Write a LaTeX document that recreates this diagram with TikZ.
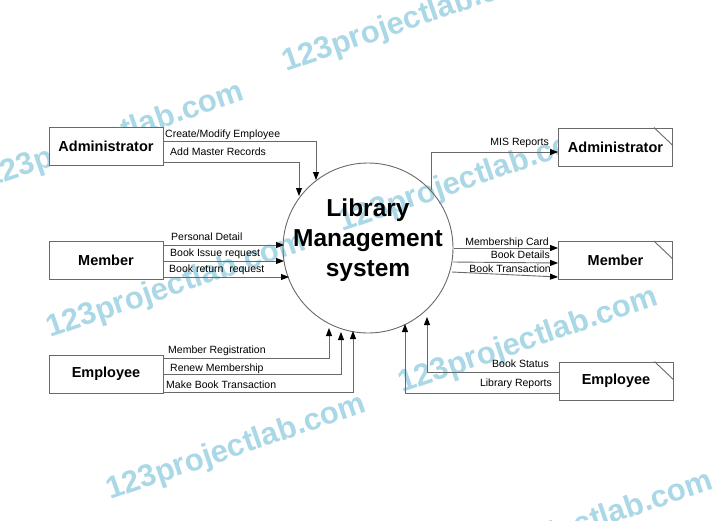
\documentclass[tikz,border=0pt]{standalone}
\usepackage{fontspec}
\setmainfont{Liberation Sans}
\usetikzlibrary{arrows.meta}
\definecolor{wmblue}{RGB}{170,216,230}
\definecolor{linegray}{RGB}{105,105,105}
\begin{document}
\begin{tikzpicture}[x=1pt,y=-1pt,
  ent/.style={draw=linegray, fill=white, line width=0.9pt, minimum width=114pt, minimum height=38pt, inner sep=0pt, font=\fontsize{14.5}{16}\selectfont\bfseries},
  flow/.style={draw=linegray, line width=0.9pt, -{Triangle[length=8pt,width=6pt,color=black]}},
  lbl/.style={font=\fontsize{10.5}{12}\selectfont, inner sep=0pt},
  wm/.style={font=\fontsize{31}{31}\selectfont\bfseries, text=wmblue, rotate=19, anchor=base west, inner sep=0pt}]
\useasboundingbox (0,0) rectangle (720,520);
\clip (0,0) rectangle (720,520);
\fill[white] (0,0) rectangle (720,520);

% watermarks
\node[wm] (w1) at (286,72) {123projectlab.com};
\node[wm] (w7) at (-12,188) {123projectlab.com};
\node[wm] (w2) at (50,338) {123projectlab.com};
\node[wm] (w3) at (342,232) {123projectlab.com};
\node[wm] (w4) at (402,393) {123projectlab.com};
\node[wm] (w5) at (110,500) {123projectlab.com};
\node[wm] (w6) at (457,577) {123projectlab.com};

% process
\node[circle, draw=linegray, line width=0.9pt, minimum size=170pt, inner sep=0pt] (sys) at (368,248) {};
\node[align=center, font=\fontsize{24.5}{30}\selectfont\bfseries, inner sep=0pt] (title) at (368,240) {Library\\Management\\system};

% entities
\node[ent] (ladm) at (106,146.5) {Administrator};
\node[ent] (lmem) at (106,260.5) {Member};
\node[ent] (lemp) at (106,374) {Employee};
\node[ent] (radm) at (615.5,147) {Administrator};
\node[ent] (rmem) at (615.5,260.5) {Member};
\node[ent] (remp) at (616,381) {Employee};
\foreach \n in {radm,rmem,remp}
  \draw[linegray, line width=0.9pt] ([xshift=-19pt]\n.north east) -- ([yshift=-18pt]\n.north east);

% end points on the process
\coordinate (a1) at (316,180);
\coordinate (a2) at (299,196);
\coordinate (m1) at (284,245);
\coordinate (m2) at (284,261);
\coordinate (m3) at (289,277);
\coordinate (e1) at (329,328);
\coordinate (e2) at (341,332);
\coordinate (e3) at (353,331);
\coordinate (r0) at (431,190);
\coordinate (o1) at (454,248);
\coordinate (o2) at (453,262);
\coordinate (o3) at (452,272);
\coordinate (b1) at (427,317);
\coordinate (b2) at (405,324);

% flows
\draw[flow] (ladm.east |- 0,141) -| (a1);
\draw[flow] (ladm.east |- 0,162) -| (a2);
\draw[flow] (lmem.east |- m1) -- (m1);
\draw[flow] (lmem.east |- m2) -- (m2);
\draw[flow] (lmem.east |- m3) -- (m3);
\draw[flow] (lemp.east |- 0,358) -| (e1);
\draw[flow] (lemp.east |- 0,374) -| (e2);
\draw[flow] (lemp.east |- 0,392) -| (e3);
\draw[flow] (r0) |- (radm.west |- 0,152);
\draw[flow] (o1) -- (rmem.west |- 0,248);
\draw[flow] (o2) -- (rmem.west |- 0,263);
\draw[flow] (o3) -- (rmem.west |- 0,277);
\draw[flow] (remp.west |- 0,372) -| (b1);
\draw[flow] (remp.west |- 0,393) -| (b2);

% labels
\node[lbl, anchor=base west] (l1) at (165,137) {Create/Modify Employee};
\node[lbl, anchor=base west] (l2) at (170,155) {Add Master Records};
\node[lbl, anchor=base west] (l3) at (171,240) {Personal Detail};
\node[lbl, anchor=base west] (l4) at (170,256) {Book Issue request};
\node[lbl, anchor=base west] (l5) at (169,272) {Book return\ \ request};
\node[lbl, anchor=base west] (l6) at (168,353) {Member Registration};
\node[lbl, anchor=base west] (l7) at (170,371) {Renew Membership};
\node[lbl, anchor=base west] (l8) at (166,388) {Make Book Transaction};
\node[lbl, anchor=base east] (r1) at (549,145) {MIS Reports};
\node[lbl, anchor=base east] (r2) at (549,245) {Membership Card};
\node[lbl, anchor=base east] (r3) at (550,258) {Book Details};
\node[lbl, anchor=base east] (r4) at (551,272) {Book Transaction};
\node[lbl, anchor=base east] (r5) at (549,367) {Book Status};
\node[lbl, anchor=base east] (r6) at (552,386) {Library Reports};
\end{tikzpicture}
\end{document}
